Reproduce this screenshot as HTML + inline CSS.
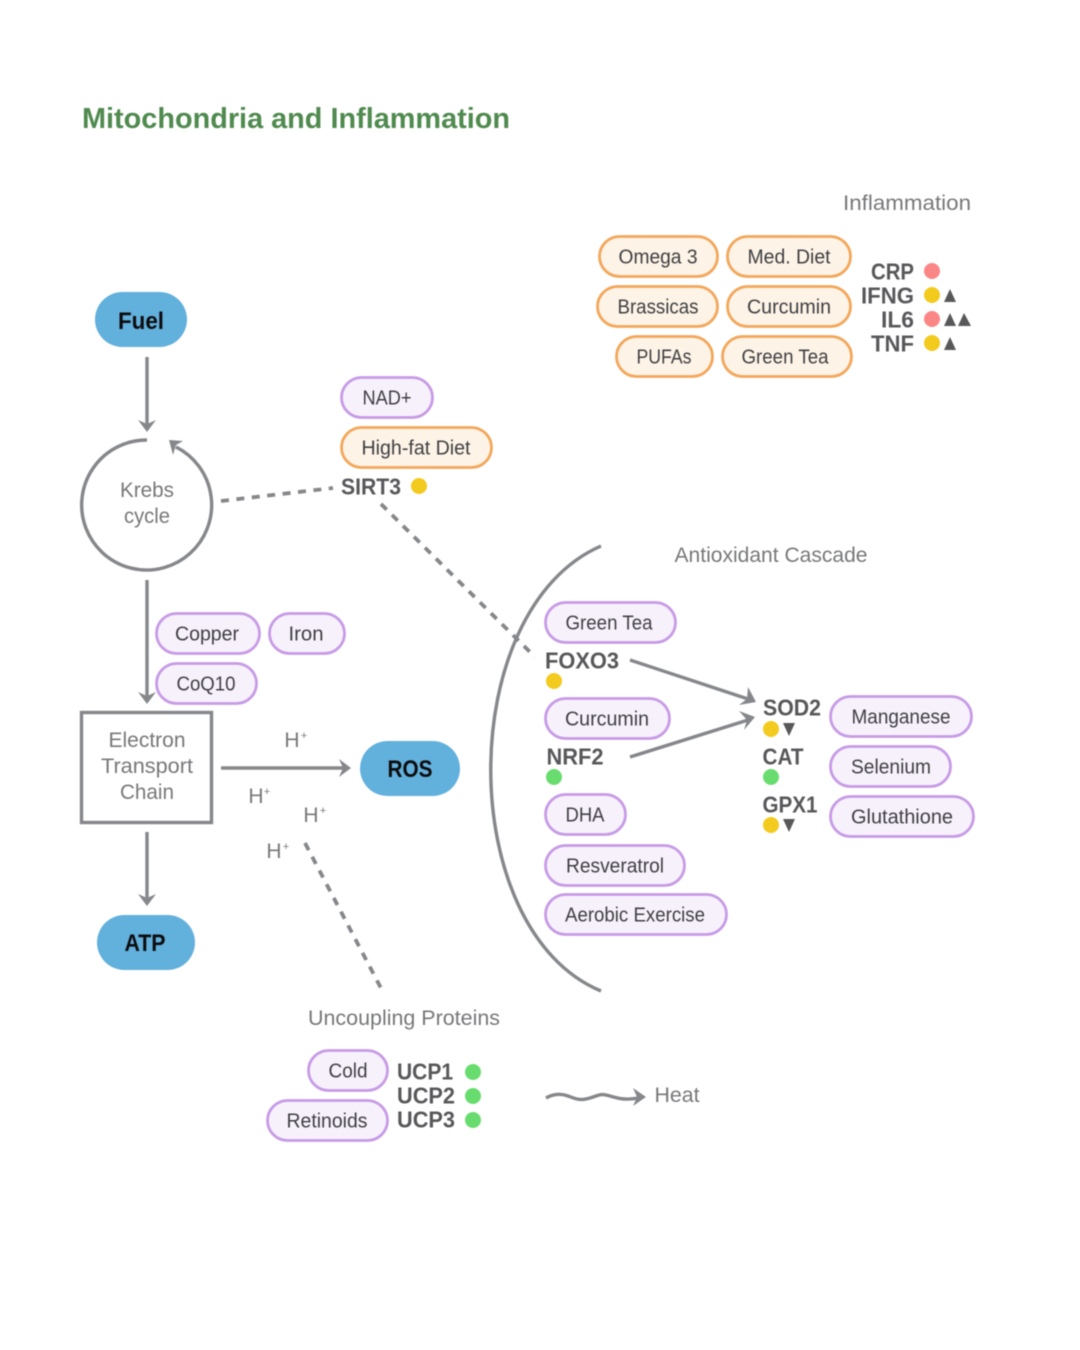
<!DOCTYPE html>
<html><head><meta charset="utf-8"><style>
html,body{margin:0;padding:0;background:#fff;width:1080px;height:1350px;overflow:hidden}
svg{display:block;filter:blur(.6px)}
text{font-family:"Liberation Sans",sans-serif;text-anchor:middle}
.p{fill:#f7f1fc;stroke:#c79be6;stroke-width:2.8}
.o{fill:#fdf3e7;stroke:#f3a75a;stroke-width:2.8}
.b{fill:#62b0dc}
.t{font-size:20px;fill:#3f3f42;transform:translateY(-.7px)}
.k{font-size:23px;font-weight:bold;fill:#58585b;transform:translateY(-.7px)}
.g{font-size:21px;fill:#77787a}
.d{font-size:24px;font-weight:bold;fill:#0d0d0f}
.l{fill:none;stroke:#85878b;stroke-width:3.4}
.da{fill:none;stroke:#85878b;stroke-width:3.8;stroke-dasharray:8 7.5}
.a{fill:#85878b}
.tri{fill:#58585b}
.y{fill:#f3ca1e}.r{fill:#fb8686}.n{fill:#69dc6f}
.s{font-size:11px}
</style></head><body>
<svg width="1080" height="1350" viewBox="0 0 1080 1350" xmlns="http://www.w3.org/2000/svg">
<rect width="1080" height="1350" fill="#fff"/>
<text x="296" y="128" textLength="428" lengthAdjust="spacingAndGlyphs" style="font-size:29px;font-weight:bold;fill:#4f8a4f">Mitochondria and Inflammation</text>

<!-- Left column -->
<rect class="b" x="95" y="292" width="92" height="55" rx="27.5"/>
<text class="d" x="141" y="329" textLength="46" lengthAdjust="spacingAndGlyphs">Fuel</text>
<path class="l" d="M147 357V424"/>
<path class="a" d="M138 420L147 424L156 420L147 432Z"/>
<path class="l" d="M147 440A65 65 0 1 0 176 447"/>
<path class="a" d="M169 440L183 441L176 445L173 455Z"/>
<text class="g" x="147" y="497" textLength="54" lengthAdjust="spacingAndGlyphs">Krebs</text>
<text class="g" x="147" y="523" textLength="46" lengthAdjust="spacingAndGlyphs">cycle</text>
<path class="l" d="M147 580V696"/>
<path class="a" d="M138 692L147 696L156 692L147 704Z"/>
<rect x="81.5" y="712.5" width="130" height="110" fill="#fff" stroke="#85878b" stroke-width="3.4"/>
<text class="g" x="147" y="747" textLength="77" lengthAdjust="spacingAndGlyphs">Electron</text>
<text class="g" x="147" y="773" textLength="92" lengthAdjust="spacingAndGlyphs">Transport</text>
<text class="g" x="147" y="799" textLength="54" lengthAdjust="spacingAndGlyphs">Chain</text>
<path class="l" d="M147 832V898"/>
<path class="a" d="M138 894L147 898L156 894L147 906Z"/>
<rect class="b" x="97" y="915" width="98" height="55" rx="27.5"/>
<text class="d" x="145" y="951" textLength="41" lengthAdjust="spacingAndGlyphs">ATP</text>

<path class="l" d="M221 768H344"/>
<path class="a" d="M339 759L343 768L339 777L351 768Z"/>
<rect class="b" x="360" y="741" width="100" height="55" rx="27.5"/>
<text class="d" x="410" y="777" textLength="45" lengthAdjust="spacingAndGlyphs">ROS</text>
<text class="g" x="292" y="747">H</text><text class="s" x="304" y="739" fill="#77787a">+</text>
<text class="g" x="256" y="803">H</text><text class="s" x="267" y="795" fill="#77787a">+</text>
<text class="g" x="311" y="822">H</text><text class="s" x="323" y="814" fill="#77787a">+</text>
<text class="g" x="274" y="858">H</text><text class="s" x="286" y="850" fill="#77787a">+</text>
<path class="da" d="M305 843L383 992"/>

<!-- SIRT3 -->
<rect class="p" x="341.5" y="377.5" width="91" height="40" rx="20"/>
<text class="t" x="387" y="405" textLength="49" lengthAdjust="spacingAndGlyphs">NAD+</text>
<rect class="o" x="341.5" y="427.5" width="150" height="40" rx="20"/>
<text class="t" x="416" y="455" textLength="109" lengthAdjust="spacingAndGlyphs">High-fat Diet</text>
<text class="k" x="371" y="495" textLength="60" lengthAdjust="spacingAndGlyphs">SIRT3</text>
<circle class="y" cx="419" cy="486" r="8"/>
<path class="da" d="M221 501L333 488"/>
<path class="da" d="M381 504L535 657"/>

<rect class="p" x="156.5" y="613.5" width="103" height="40" rx="20"/>
<text class="t" x="207" y="641" textLength="64" lengthAdjust="spacingAndGlyphs">Copper</text>
<rect class="p" x="269.5" y="613.5" width="75" height="40" rx="20"/>
<text class="t" x="306" y="641" textLength="35" lengthAdjust="spacingAndGlyphs">Iron</text>
<rect class="p" x="156.5" y="663.5" width="100" height="40" rx="20"/>
<text class="t" x="206" y="691" textLength="59" lengthAdjust="spacingAndGlyphs">CoQ10</text>

<!-- Inflammation -->
<text class="g" x="907" y="210" textLength="128" lengthAdjust="spacingAndGlyphs">Inflammation</text>
<rect class="o" x="599.5" y="236.5" width="118" height="40" rx="20"/>
<text class="t" x="658" y="264" textLength="79" lengthAdjust="spacingAndGlyphs">Omega 3</text>
<rect class="o" x="727.5" y="236.5" width="123" height="40" rx="20"/>
<text class="t" x="789" y="264" textLength="83" lengthAdjust="spacingAndGlyphs">Med. Diet</text>
<rect class="o" x="597.5" y="286.5" width="120" height="40" rx="20"/>
<text class="t" x="658" y="314" textLength="81" lengthAdjust="spacingAndGlyphs">Brassicas</text>
<rect class="o" x="727.5" y="286.5" width="123" height="40" rx="20"/>
<text class="t" x="789" y="314" textLength="84" lengthAdjust="spacingAndGlyphs">Curcumin</text>
<rect class="o" x="616.5" y="336.5" width="96" height="40" rx="20"/>
<text class="t" x="664" y="364" textLength="55" lengthAdjust="spacingAndGlyphs">PUFAs</text>
<rect class="o" x="722.5" y="336.5" width="129" height="40" rx="20"/>
<text class="t" x="785" y="364" textLength="87" lengthAdjust="spacingAndGlyphs">Green Tea</text>
<text class="k" x="914" y="280" style="text-anchor:end" textLength="43" lengthAdjust="spacingAndGlyphs">CRP</text>
<text class="k" x="914" y="304" style="text-anchor:end" textLength="53" lengthAdjust="spacingAndGlyphs">IFNG</text>
<text class="k" x="914" y="328" style="text-anchor:end" textLength="33" lengthAdjust="spacingAndGlyphs">IL6</text>
<text class="k" x="914" y="352" style="text-anchor:end" textLength="43" lengthAdjust="spacingAndGlyphs">TNF</text>
<circle class="r" cx="932" cy="271" r="8"/>
<circle class="y" cx="932" cy="295" r="8"/>
<circle class="r" cx="932" cy="319" r="8"/>
<circle class="y" cx="932" cy="343" r="8"/>
<path class="tri" d="M950 289L956 302H944Z"/>
<path class="tri" d="M950 313L956 326H944Z"/>
<path class="tri" d="M964 313L971 326H958Z"/>
<path class="tri" d="M950 337L956 350H944Z"/>

<!-- Antioxidant -->
<text class="g" x="771" y="562" textLength="193" lengthAdjust="spacingAndGlyphs">Antioxidant Cascade</text>
<path class="l" d="M601 546C454 610 454 930 601 991"/>
<rect class="p" x="545.5" y="602.5" width="130" height="40" rx="20"/>
<text class="t" x="609" y="630" textLength="87" lengthAdjust="spacingAndGlyphs">Green Tea</text>
<text class="k" x="582" y="669" textLength="74" lengthAdjust="spacingAndGlyphs">FOXO3</text>
<circle class="y" cx="554" cy="681" r="8"/>
<rect class="p" x="545.5" y="698.5" width="124" height="40" rx="20"/>
<text class="t" x="607" y="726" textLength="84" lengthAdjust="spacingAndGlyphs">Curcumin</text>
<text class="k" x="575" y="765" textLength="57" lengthAdjust="spacingAndGlyphs">NRF2</text>
<circle class="n" cx="554" cy="777" r="8"/>
<rect class="p" x="545.5" y="794.5" width="80" height="40" rx="20"/>
<text class="t" x="585" y="822" textLength="39" lengthAdjust="spacingAndGlyphs">DHA</text>
<rect class="p" x="545.5" y="845.5" width="139" height="40" rx="20"/>
<text class="t" x="615" y="873" textLength="98" lengthAdjust="spacingAndGlyphs">Resveratrol</text>
<rect class="p" x="545.5" y="894.5" width="181" height="40" rx="20"/>
<text class="t" x="635" y="922" textLength="140" lengthAdjust="spacingAndGlyphs">Aerobic Exercise</text>

<path class="l" d="M630 660L748 699"/>
<path class="a" d="M748 687L756 702L739 705L747 699Z"/>
<path class="l" d="M630 757L748 720"/>
<path class="a" d="M739 711L755 717L744 730L747 720Z"/>

<text class="k" x="792" y="716" textLength="58" lengthAdjust="spacingAndGlyphs">SOD2</text>
<circle class="y" cx="771" cy="729" r="8"/>
<path class="tri" d="M783 723H795L789 736Z"/>
<text class="k" x="783" y="765" textLength="41" lengthAdjust="spacingAndGlyphs">CAT</text>
<circle class="n" cx="771" cy="777" r="8"/>
<text class="k" x="790" y="813" textLength="55" lengthAdjust="spacingAndGlyphs">GPX1</text>
<circle class="y" cx="771" cy="825" r="8"/>
<path class="tri" d="M783 819H795L789 832Z"/>

<rect class="p" x="830.5" y="696.5" width="141" height="40" rx="20"/>
<text class="t" x="901" y="724" textLength="99" lengthAdjust="spacingAndGlyphs">Manganese</text>
<rect class="p" x="830.5" y="746.5" width="120" height="40" rx="20"/>
<text class="t" x="891" y="774" textLength="80" lengthAdjust="spacingAndGlyphs">Selenium</text>
<rect class="p" x="830.5" y="796.5" width="143" height="40" rx="20"/>
<text class="t" x="902" y="824" textLength="102" lengthAdjust="spacingAndGlyphs">Glutathione</text>

<!-- Uncoupling -->
<text class="g" x="404" y="1025" textLength="192" lengthAdjust="spacingAndGlyphs">Uncoupling Proteins</text>
<rect class="p" x="308.5" y="1050.5" width="79" height="40" rx="20"/>
<text class="t" x="348" y="1078" textLength="39" lengthAdjust="spacingAndGlyphs">Cold</text>
<rect class="p" x="267.5" y="1100.5" width="120" height="40" rx="20"/>
<text class="t" x="327" y="1128" textLength="81" lengthAdjust="spacingAndGlyphs">Retinoids</text>
<text class="k" x="425" y="1080" textLength="56" lengthAdjust="spacingAndGlyphs">UCP1</text>
<text class="k" x="426" y="1104" textLength="58" lengthAdjust="spacingAndGlyphs">UCP2</text>
<text class="k" x="426" y="1128" textLength="58" lengthAdjust="spacingAndGlyphs">UCP3</text>
<circle class="n" cx="473" cy="1072" r="8"/>
<circle class="n" cx="473" cy="1096" r="8"/>
<circle class="n" cx="473" cy="1120" r="8"/>
<path class="l" d="M546 1098C553 1094 560 1093 568 1096S580 1101 590 1098S600 1093 610 1096S625 1100 638 1098"/>
<path class="a" d="M633 1088L637 1097L633 1106L646 1097Z"/>
<text class="g" x="677" y="1102" textLength="45" lengthAdjust="spacingAndGlyphs">Heat</text>
</svg>
</body></html>
